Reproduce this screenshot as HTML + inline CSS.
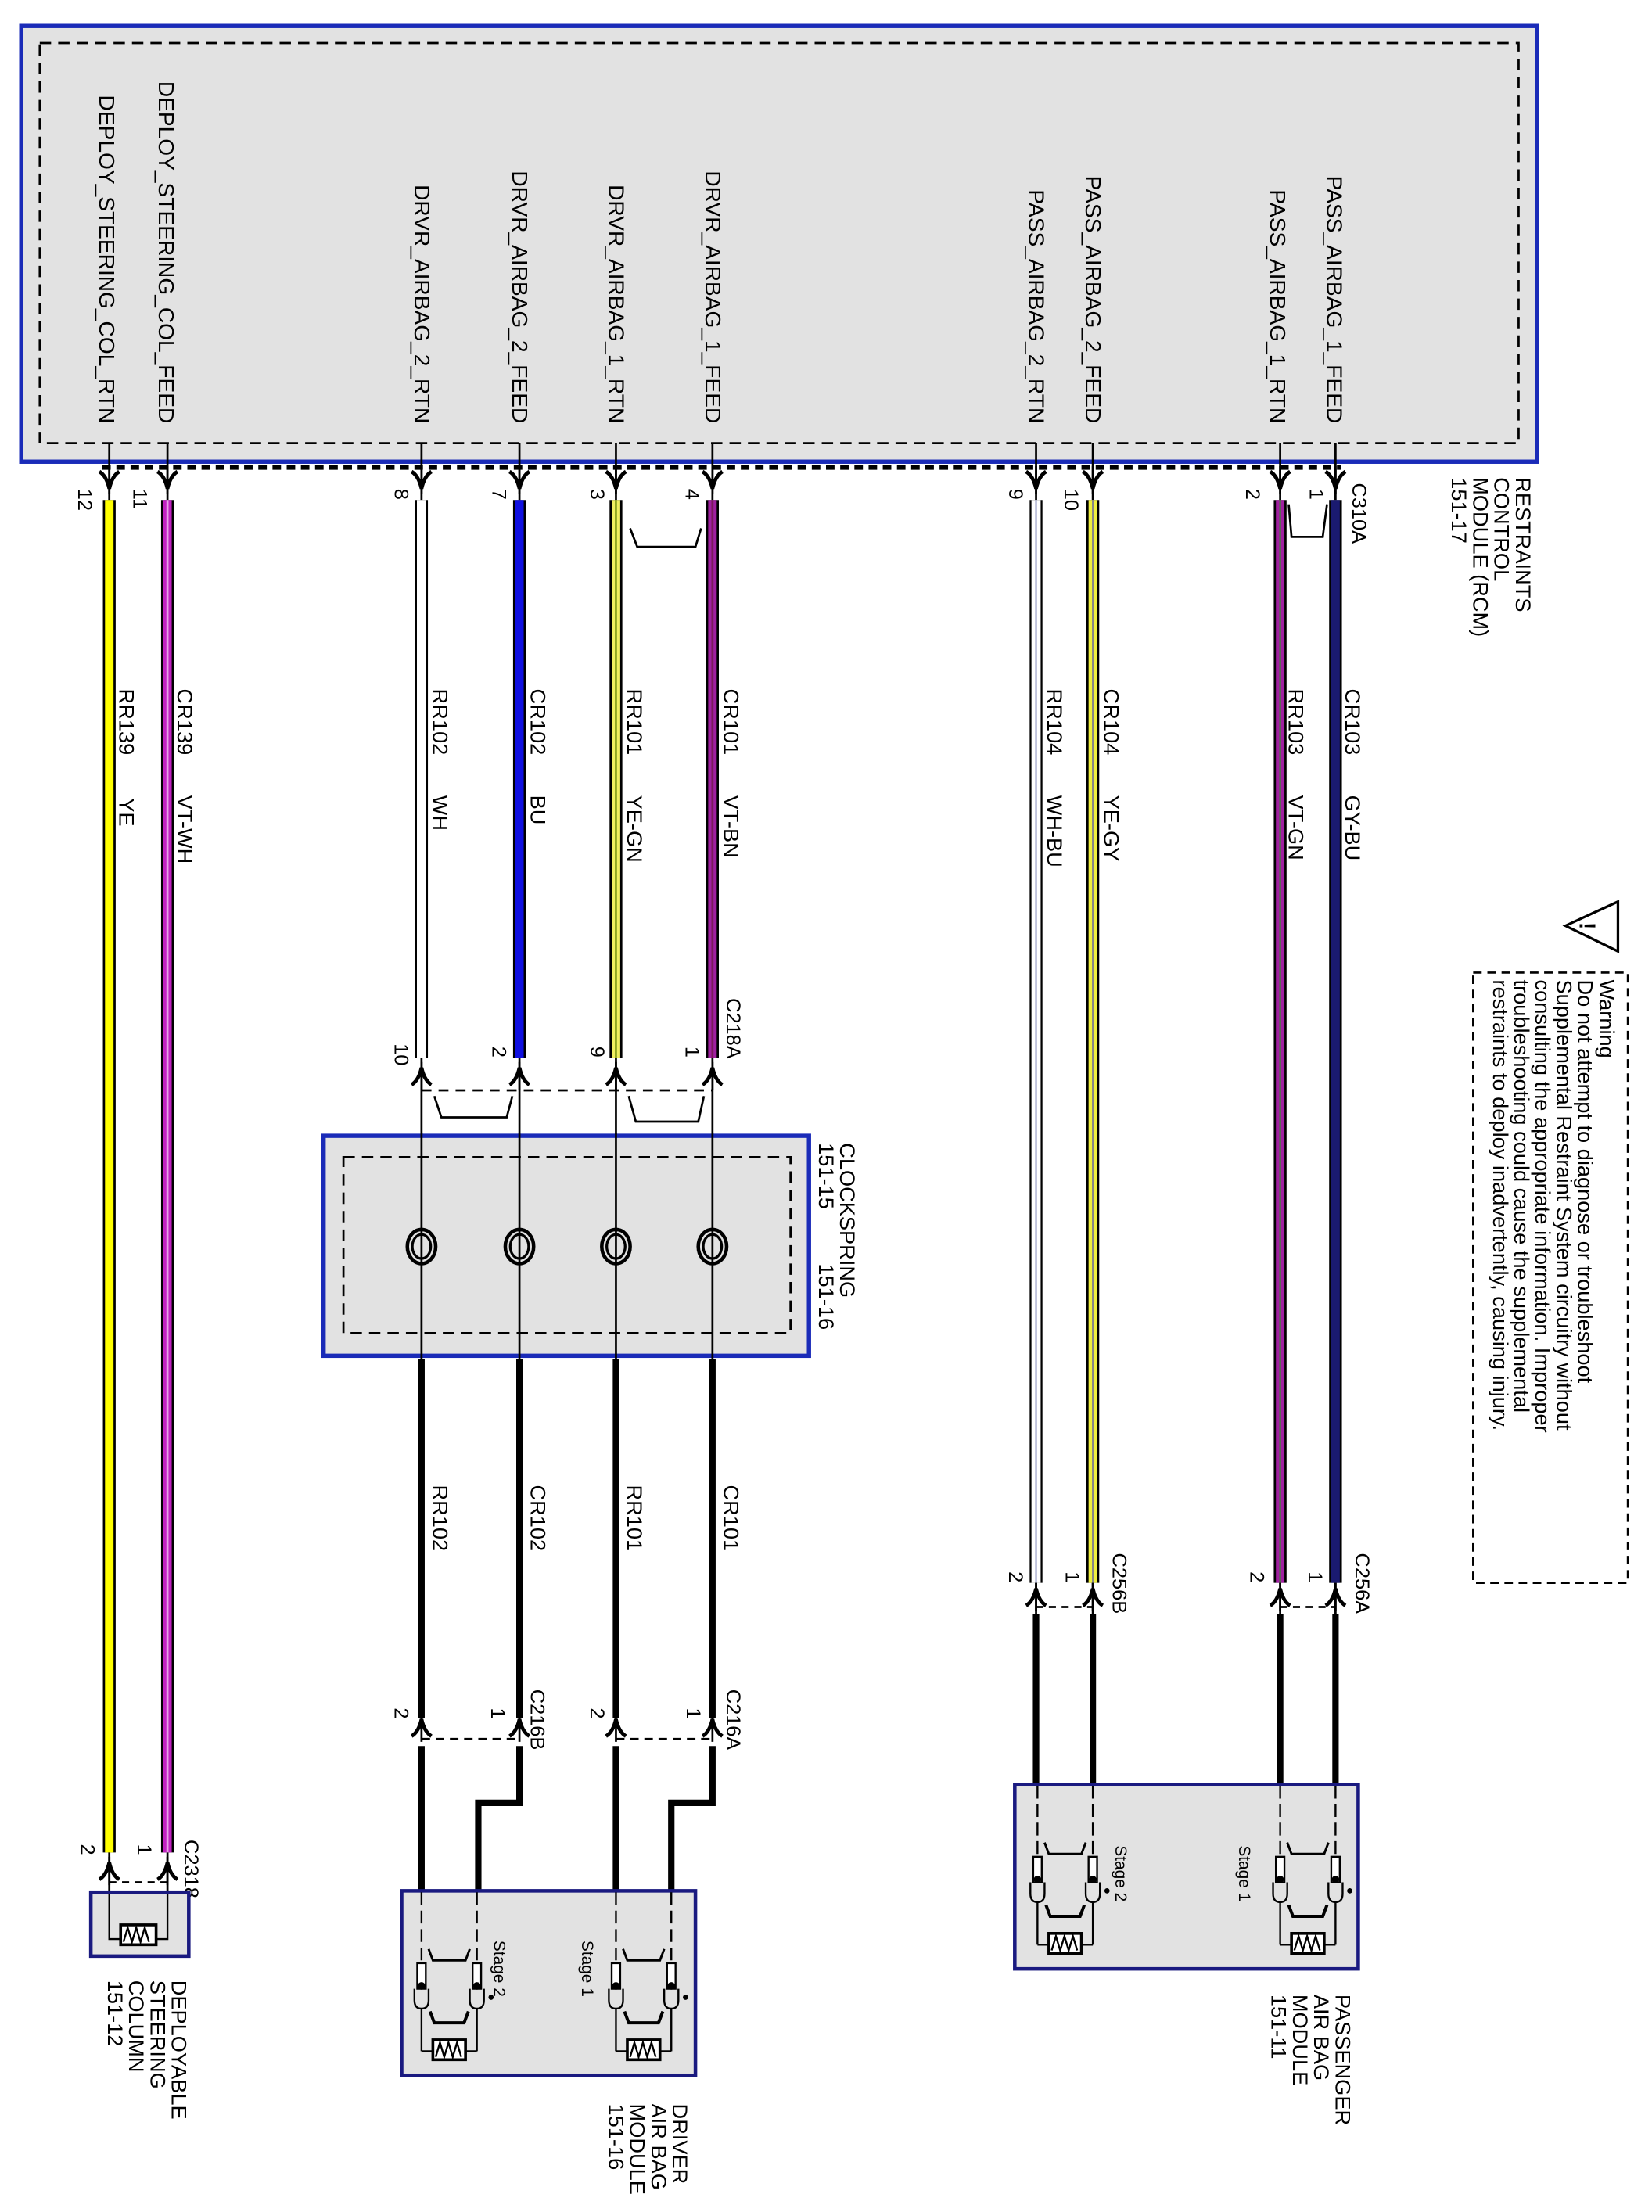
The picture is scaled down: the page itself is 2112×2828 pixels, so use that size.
<!DOCTYPE html>
<html><head><meta charset="utf-8"><style>
html,body{margin:0;padding:0;background:#fff}
svg{display:block}
text{font-family:"Liberation Sans",Arial,sans-serif;fill:#000}
</style></head><body>
<svg width="2112" height="2828" viewBox="0 0 1164 1558" xmlns="http://www.w3.org/2000/svg">
<defs>
<g id="dn"><path d="M-7 -6 Q-2 -3 0 6 Q2 -3 7 -6" fill="none" stroke="#000" stroke-width="2.6"/><line x1="0" y1="-10" x2="0" y2="10" stroke="#000" stroke-width="1.5"/></g>
<g id="up"><path d="M-7 6 Q-2 3 0 -6 Q2 3 7 6" fill="none" stroke="#000" stroke-width="2.6"/><line x1="0" y1="-10" x2="0" y2="10" stroke="#000" stroke-width="1.5"/></g>
<g id="sq" fill="none" stroke="#000" stroke-width="1.3">
<line x1="0" y1="0" x2="0" y2="48" stroke-dasharray="9,4"/>
<line x1="39" y1="0" x2="39" y2="48" stroke-dasharray="9,4"/>
<path d="M5 40 L8 48 L31 48 L34 40" stroke-width="1.6"/>
<rect x="-3" y="50" width="6" height="18" fill="#fff"/><rect x="36" y="50" width="6" height="18" fill="#fff"/>
<circle cx="0" cy="66" r="2" fill="#000"/><circle cx="39" cy="66" r="2" fill="#000"/>
<path d="M-5 68 L-5 76 Q-5 82 0 82 Q5 82 5 76 L5 68"/><path d="M34 68 L34 76 Q34 82 39 82 Q44 82 44 76 L44 68"/>
<line x1="0" y1="82" x2="0" y2="112"/><line x1="39" y1="82" x2="39" y2="112"/>
<path d="M6 84 L9 92 L30 92 L33 84" stroke-width="2.2"/>
<line x1="0" y1="112" x2="39" y2="112"/>
<rect x="8" y="104" width="23" height="14" fill="#fff" stroke-width="2"/>
<path d="M10 116 L13 106 L16 116 L19 106 L22 116 L25 106 L28 116"/>
<circle cx="49" cy="74" r="1.2" fill="#000"/>
</g>
<g id="coil" fill="none" stroke="#000"><ellipse cx="0" cy="0" rx="10" ry="12" stroke-width="2.5"/><ellipse cx="0" cy="0" rx="6.5" ry="8.5" stroke-width="1.8"/></g>
</defs>

<rect x="15" y="18" width="1068" height="307" fill="#e2e2e2" stroke="#1a2bb8" stroke-width="3"/>
<rect x="28" y="30" width="1042" height="282" fill="none" stroke="#000" stroke-width="1.5" stroke-dasharray="8,5"/>
<line x1="72" y1="329" x2="945" y2="329" stroke="#000" stroke-width="3.5" stroke-dasharray="6,4"/>

<g font-size="15.5">
<text transform="translate(70,298) rotate(90)" text-anchor="end">DEPLOY_STEERING_COL_RTN</text>
<text transform="translate(112,298) rotate(90)" text-anchor="end">DEPLOY_STEERING_COL_FEED</text>
<text transform="translate(292,298) rotate(90)" text-anchor="end">DRVR_AIRBAG_2_RTN</text>
<text transform="translate(361,298) rotate(90)" text-anchor="end">DRVR_AIRBAG_2_FEED</text>
<text transform="translate(429,298) rotate(90)" text-anchor="end">DRVR_AIRBAG_1_RTN</text>
<text transform="translate(497,298) rotate(90)" text-anchor="end">DRVR_AIRBAG_1_FEED</text>
<text transform="translate(725,298) rotate(90)" text-anchor="end">PASS_AIRBAG_2_RTN</text>
<text transform="translate(765,298) rotate(90)" text-anchor="end">PASS_AIRBAG_2_FEED</text>
<text transform="translate(895,298) rotate(90)" text-anchor="end">PASS_AIRBAG_1_RTN</text>
<text transform="translate(935,298) rotate(90)" text-anchor="end">PASS_AIRBAG_1_FEED</text>
</g>

<g stroke="#000" stroke-width="1.5">
<line x1="77" y1="312" x2="77" y2="352"/><line x1="118" y1="312" x2="118" y2="352"/>
<line x1="297" y1="312" x2="297" y2="352"/><line x1="366" y1="312" x2="366" y2="352"/>
<line x1="434" y1="312" x2="434" y2="352"/><line x1="502" y1="312" x2="502" y2="352"/>
<line x1="730" y1="312" x2="730" y2="352"/><line x1="770" y1="312" x2="770" y2="352"/>
<line x1="902" y1="312" x2="902" y2="352"/><line x1="941" y1="312" x2="941" y2="352"/>
</g>
<use href="#dn" x="77" y="338"/><use href="#dn" x="118" y="338"/><use href="#dn" x="297" y="338"/><use href="#dn" x="366" y="338"/><use href="#dn" x="434" y="338"/><use href="#dn" x="502" y="338"/><use href="#dn" x="730" y="338"/><use href="#dn" x="770" y="338"/><use href="#dn" x="902" y="338"/><use href="#dn" x="941" y="338"/>

<g font-size="14">
<text transform="translate(55,344) rotate(90)">12</text>
<text transform="translate(94,344) rotate(90)">11</text>
<text transform="translate(278,344) rotate(90)">8</text>
<text transform="translate(347,344) rotate(90)">7</text>
<text transform="translate(416,344) rotate(90)">3</text>
<text transform="translate(483,344) rotate(90)">4</text>
<text transform="translate(711,344) rotate(90)">9</text>
<text transform="translate(750,344) rotate(90)">10</text>
<text transform="translate(878,344) rotate(90)">2</text>
<text transform="translate(923,344) rotate(90)">1</text>
<text transform="translate(953,340) rotate(90)">C310A</text>
</g>
<g font-size="15">
<text transform="translate(1068,336) rotate(90)">RESTRAINTS</text>
<text transform="translate(1053,336) rotate(90)">CONTROL</text>
<text transform="translate(1038,336) rotate(90)">MODULE (RCM)</text>
<text transform="translate(1023,336) rotate(90)">151-17</text>
</g>

<g stroke-linecap="butt">
<line x1="77" y1="352" x2="77" y2="1305" stroke="#000" stroke-width="9"/><line x1="77" y1="352" x2="77" y2="1305" stroke="#ffff00" stroke-width="6"/>
<line x1="118" y1="352" x2="118" y2="1305" stroke="#000" stroke-width="9"/><line x1="118" y1="352" x2="118" y2="1305" stroke="#c020c0" stroke-width="6"/><line x1="118" y1="352" x2="118" y2="1305" stroke="#e8a0e8" stroke-width="1.5"/>
<line x1="297" y1="352" x2="297" y2="745" stroke="#000" stroke-width="9"/><line x1="297" y1="352" x2="297" y2="745" stroke="#fff" stroke-width="6.5"/>
<line x1="366" y1="352" x2="366" y2="745" stroke="#000" stroke-width="9"/><line x1="366" y1="352" x2="366" y2="745" stroke="#1010e0" stroke-width="6"/>
<line x1="434" y1="352" x2="434" y2="745" stroke="#000" stroke-width="9"/><line x1="434" y1="352" x2="434" y2="745" stroke="#f0f060" stroke-width="6"/><line x1="434" y1="352" x2="434" y2="745" stroke="#557a00" stroke-width="1.2"/>
<line x1="502" y1="352" x2="502" y2="745" stroke="#000" stroke-width="9"/><line x1="502" y1="352" x2="502" y2="745" stroke="#a020a0" stroke-width="6"/><line x1="502" y1="352" x2="502" y2="745" stroke="#7a1a5a" stroke-width="1.5"/>
<line x1="730" y1="352" x2="730" y2="1115" stroke="#000" stroke-width="9"/><line x1="730" y1="352" x2="730" y2="1115" stroke="#fff" stroke-width="6.5"/><line x1="730" y1="352" x2="730" y2="1115" stroke="#9aa0c8" stroke-width="1.2"/>
<line x1="770" y1="352" x2="770" y2="1115" stroke="#000" stroke-width="9"/><line x1="770" y1="352" x2="770" y2="1115" stroke="#f0f040" stroke-width="6"/><line x1="770" y1="352" x2="770" y2="1115" stroke="#888" stroke-width="1.2"/>
<line x1="902" y1="352" x2="902" y2="1115" stroke="#000" stroke-width="9"/><line x1="902" y1="352" x2="902" y2="1115" stroke="#a020a0" stroke-width="6"/><line x1="902" y1="352" x2="902" y2="1115" stroke="#40803a" stroke-width="1.2"/>
<line x1="941" y1="352" x2="941" y2="1115" stroke="#000" stroke-width="9"/><line x1="941" y1="352" x2="941" y2="1115" stroke="#1a1a70" stroke-width="6"/>
</g>

<g fill="none" stroke="#000" stroke-width="1.5">
<path d="M444 372 L449 385 L490 385 L494 372"/>
<path d="M908 355 L910 378 L932 378 L935 355"/>
<path d="M306 772 L311 787 L357 787 L361 772"/>
<path d="M443 772 L448 790 L492 790 L496 772"/>
</g>

<g font-size="15">
<text transform="translate(84,485) rotate(90)">RR139</text><text transform="translate(84,562) rotate(90)">YE</text>
<text transform="translate(125,485) rotate(90)">CR139</text><text transform="translate(125,560) rotate(90)">VT-WH</text>
<text transform="translate(305,485) rotate(90)">RR102</text><text transform="translate(305,560) rotate(90)">WH</text>
<text transform="translate(374,485) rotate(90)">CR102</text><text transform="translate(374,560) rotate(90)">BU</text>
<text transform="translate(442,485) rotate(90)">RR101</text><text transform="translate(442,560) rotate(90)">YE-GN</text>
<text transform="translate(510,485) rotate(90)">CR101</text><text transform="translate(510,560) rotate(90)">VT-BN</text>
<text transform="translate(738,485) rotate(90)">RR104</text><text transform="translate(738,560) rotate(90)">WH-BU</text>
<text transform="translate(778,485) rotate(90)">CR104</text><text transform="translate(778,560) rotate(90)">YE-GY</text>
<text transform="translate(908,485) rotate(90)">RR103</text><text transform="translate(908,560) rotate(90)">VT-GN</text>
<text transform="translate(948,485) rotate(90)">CR103</text><text transform="translate(948,560) rotate(90)">GY-BU</text>
</g>

<g stroke="#000" stroke-width="1.5"><line x1="297" y1="745" x2="297" y2="955"/><line x1="366" y1="745" x2="366" y2="955"/><line x1="434" y1="745" x2="434" y2="955"/><line x1="502" y1="745" x2="502" y2="955"/></g>
<use href="#up" x="297" y="758"/><use href="#up" x="366" y="758"/><use href="#up" x="434" y="758"/><use href="#up" x="502" y="758"/>
<line x1="297" y1="768" x2="502" y2="768" stroke="#000" stroke-width="1.5" stroke-dasharray="7,5"/>
<g font-size="14">
<text transform="translate(278,735) rotate(90)">10</text>
<text transform="translate(347,737) rotate(90)">2</text>
<text transform="translate(416,737) rotate(90)">9</text>
<text transform="translate(483,737) rotate(90)">1</text>
<text transform="translate(512,703) rotate(90)">C218A</text>
</g>

<rect x="228" y="800" width="342" height="155" fill="#e2e2e2" stroke="#1a2bb8" stroke-width="3"/>
<rect x="242" y="815" width="315" height="124" fill="none" stroke="#000" stroke-width="1.5" stroke-dasharray="8,5"/>
<g stroke="#000" stroke-width="1.5"><line x1="297" y1="798" x2="297" y2="957"/><line x1="366" y1="798" x2="366" y2="957"/><line x1="434" y1="798" x2="434" y2="957"/><line x1="502" y1="798" x2="502" y2="957"/></g>
<use href="#coil" x="297" y="878"/><use href="#coil" x="366" y="878"/><use href="#coil" x="434" y="878"/><use href="#coil" x="502" y="878"/>
<g font-size="15">
<text transform="translate(592,805) rotate(90)">CLOCKSPRING</text>
<text transform="translate(577,805) rotate(90)">151-15</text>
<text transform="translate(577,890) rotate(90)">151-16</text>
</g>

<g fill="none" stroke="#000" stroke-width="4.5">
<line x1="297" y1="957" x2="297" y2="1210"/><line x1="366" y1="957" x2="366" y2="1210"/>
<line x1="434" y1="957" x2="434" y2="1210"/><line x1="502" y1="957" x2="502" y2="1210"/>
<line x1="297" y1="1230" x2="297" y2="1332"/>
<path d="M366 1230 L366 1270 L337 1270 L337 1332"/>
<line x1="434" y1="1230" x2="434" y2="1332"/>
<path d="M502 1230 L502 1270 L473 1270 L473 1332"/>
</g>
<g font-size="15">
<text transform="translate(305,1046) rotate(90)">RR102</text>
<text transform="translate(374,1046) rotate(90)">CR102</text>
<text transform="translate(442,1046) rotate(90)">RR101</text>
<text transform="translate(510,1046) rotate(90)">CR101</text>
</g>
<use href="#up" x="297" y="1217"/><use href="#up" x="366" y="1217"/><use href="#up" x="434" y="1217"/><use href="#up" x="502" y="1217"/>
<g stroke="#000" stroke-width="1.5" stroke-dasharray="6,4"><line x1="297" y1="1225" x2="366" y2="1225"/><line x1="434" y1="1225" x2="502" y2="1225"/></g>
<g font-size="14">
<text transform="translate(278,1203) rotate(90)">2</text>
<text transform="translate(346,1203) rotate(90)">1</text>
<text transform="translate(416,1203) rotate(90)">2</text>
<text transform="translate(484,1203) rotate(90)">1</text>
<text transform="translate(374,1190) rotate(90)">C216B</text>
<text transform="translate(512,1190) rotate(90)">C216A</text>
</g>

<rect x="283" y="1332" width="207" height="130" fill="#e2e2e2" stroke="#1a1a80" stroke-width="2.5"/>
<use href="#sq" x="297" y="1333"/><use href="#sq" x="434" y="1333"/>
<g font-size="11.5">
<text transform="translate(348,1367) rotate(90)">Stage 2</text>
<text transform="translate(410,1367) rotate(90)">Stage 1</text>
</g>
<g font-size="15">
<text transform="translate(474,1482) rotate(90)">DRIVER</text>
<text transform="translate(459,1482) rotate(90)">AIR BAG</text>
<text transform="translate(444,1482) rotate(90)">MODULE</text>
<text transform="translate(429,1482) rotate(90)">151-16</text>
</g>

<g stroke="#000" stroke-width="4.5"><line x1="730" y1="1137" x2="730" y2="1257"/><line x1="770" y1="1137" x2="770" y2="1257"/><line x1="902" y1="1137" x2="902" y2="1257"/><line x1="941" y1="1137" x2="941" y2="1257"/></g>
<g stroke="#000" stroke-width="1.5"><line x1="730" y1="1115" x2="730" y2="1137"/><line x1="770" y1="1115" x2="770" y2="1137"/><line x1="902" y1="1115" x2="902" y2="1137"/><line x1="941" y1="1115" x2="941" y2="1137"/></g>
<use href="#up" x="730" y="1125"/><use href="#up" x="770" y="1125"/><use href="#up" x="902" y="1125"/><use href="#up" x="941" y="1125"/>
<g stroke="#000" stroke-width="1.5" stroke-dasharray="5,4"><line x1="730" y1="1132" x2="770" y2="1132"/><line x1="902" y1="1132" x2="941" y2="1132"/></g>
<g font-size="14">
<text transform="translate(711,1107) rotate(90)">2</text>
<text transform="translate(751,1107) rotate(90)">1</text>
<text transform="translate(881,1107) rotate(90)">2</text>
<text transform="translate(922,1107) rotate(90)">1</text>
<text transform="translate(784,1094) rotate(90)">C256B</text>
<text transform="translate(955,1094) rotate(90)">C256A</text>
</g>
<rect x="715" y="1257" width="242" height="130" fill="#e2e2e2" stroke="#1a1a80" stroke-width="2.5"/>
<use href="#sq" x="731" y="1258"/><use href="#sq" x="902" y="1258"/>
<g font-size="11.5">
<text transform="translate(786,1300) rotate(90)">Stage 2</text>
<text transform="translate(873,1300) rotate(90)">Stage 1</text>
</g>
<g font-size="15">
<text transform="translate(941,1405) rotate(90)">PASSENGER</text>
<text transform="translate(926,1405) rotate(90)">AIR BAG</text>
<text transform="translate(911,1405) rotate(90)">MODULE</text>
<text transform="translate(896,1405) rotate(90)">151-11</text>
</g>

<g stroke="#000" stroke-width="1.5"><line x1="77" y1="1305" x2="77" y2="1334"/><line x1="118" y1="1305" x2="118" y2="1334"/></g>
<use href="#up" x="77" y="1318"/><use href="#up" x="118" y="1318"/>
<line x1="77" y1="1326" x2="118" y2="1326" stroke="#000" stroke-width="1.5" stroke-dasharray="5,4"/>
<g font-size="14">
<text transform="translate(57,1299) rotate(90)">2</text>
<text transform="translate(97,1299) rotate(90)">1</text>
<text transform="translate(130,1296) rotate(90)">C2318</text>
</g>
<rect x="64" y="1333" width="69" height="45" fill="#e2e2e2" stroke="#1a1a80" stroke-width="2.5"/>
<g fill="none" stroke="#000" stroke-width="1.3">
<path d="M77 1334 L77 1366 L118 1366 L118 1334"/>
<rect x="85" y="1356" width="25" height="14" fill="#fff" stroke-width="2"/>
<path d="M87 1368 L90 1358 L93 1368 L96 1358 L99 1368 L102 1358 L105 1368"/>
</g>
<g font-size="15">
<text transform="translate(121,1395) rotate(90)">DEPLOYABLE</text>
<text transform="translate(106,1395) rotate(90)">STEERING</text>
<text transform="translate(91,1395) rotate(90)">COLUMN</text>
<text transform="translate(76,1395) rotate(90)">151-12</text>
</g>

<path d="M1103 652 L1140 635 L1140 670 Z" fill="#fff" stroke="#000" stroke-width="1.8"/>
<text transform="translate(1113,652) rotate(90)" font-size="16" font-weight="bold" text-anchor="middle">!</text>
<rect x="1038" y="685" width="109" height="430" fill="none" stroke="#000" stroke-width="1.5" stroke-dasharray="6,4"/>
<g font-size="15">
<text transform="translate(1127,690) rotate(90)">Warning</text>
<text transform="translate(1112,690) rotate(90)">Do not attempt to diagnose or troubleshoot</text>
<text transform="translate(1097,690) rotate(90)">Supplemental Restraint System circuitry without</text>
<text transform="translate(1082,690) rotate(90)">consulting the appropriate information. Improper</text>
<text transform="translate(1067,690) rotate(90)">troubleshooting could cause the supplemental</text>
<text transform="translate(1052,690) rotate(90)">restraints to deploy inadvertently, causing injury.</text>
</g>
</svg>
</body></html>
